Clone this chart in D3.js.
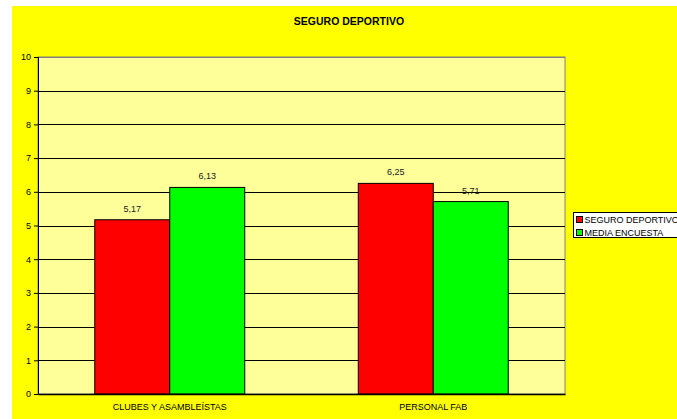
<!DOCTYPE html>
<html>
<head>
<meta charset="utf-8">
<script src="https://cdn.jsdelivr.net/npm/d3@7"></script>
<style>
  body { margin: 0; background: #fff; }
  svg { display: block; font-family: "Liberation Sans", Arial, sans-serif; }
</style>
</head>
<body>
<svg id="chart" width="677" height="419"></svg>
<script>
// chart data
var categories = ["CLUBES Y ASAMBLEÍSTAS", "PERSONAL FAB"];
var seriesNames = ["SEGURO DEPORTIVO", "MEDIA ENCUESTA"];
var seguroValues = [5.17, 6.25];
var mediaValues = [6.13, 5.71];
var yTicks = [0, 1, 2, 3, 4, 5, 6, 7, 8, 9, 10];
var colors = ["#ff0000", "#00ff00"];

var svg = d3.select("#chart");

// yellow chart area
svg.append("rect")
  .attr("x", 12).attr("y", 6)
  .attr("width", 665).attr("height", 413)
  .attr("fill", "#ffff00");

// title
svg.append("text")
  .attr("x", 349).attr("y", 25)
  .attr("text-anchor", "middle")
  .style("font-size", "10.5px")
  .style("font-weight", "bold")
  .text("SEGURO DEPORTIVO");

// plot box (window.top is read-only, so no bare "top" here)
var plotLeft = 38, plotRight = 565, plotTop = 57, plotBottom = 394;

var y = d3.scaleLinear().domain([0, 10]).range([plotBottom, plotTop]);
var x = d3.scaleBand().domain(categories).range([plotLeft, plotRight]);
var xSub = d3.scaleBand().domain(seriesNames)
  .range([0, x.bandwidth()]).paddingOuter(0.757);

// plot background
svg.append("rect")
  .attr("x", plotLeft).attr("y", plotTop)
  .attr("width", plotRight - plotLeft).attr("height", plotBottom - plotTop)
  .attr("fill", "#ffff99")
  .attr("stroke", "#808080")
  .attr("stroke-width", 1);

// gridlines
svg.append("g").selectAll("line")
  .data(yTicks.filter(function(d) { return d > 0; }))
  .enter().append("line")
    .attr("x1", plotLeft).attr("x2", plotRight)
    .attr("y1", function(d) { return Math.round(y(d)) + 0.5; })
    .attr("y2", function(d) { return Math.round(y(d)) + 0.5; })
    .attr("stroke", function(d) { return d == 10 ? "#808080" : "#000"; })
    .attr("stroke-width", 1);

// bars
var rows = categories.map(function(c, i) {
  return [
    { cat: c, name: seriesNames[0], value: seguroValues[i], color: colors[0] },
    { cat: c, name: seriesNames[1], value: mediaValues[i], color: colors[1] }
  ];
});

var groups = svg.append("g").selectAll("g")
  .data(rows)
  .enter().append("g")
    .attr("transform", function(d, i) { return "translate(" + x(categories[i]) + ",0)"; });

groups.selectAll("rect")
  .data(function(d) { return d; })
  .enter().append("rect")
    .attr("x", function(d) { return xSub(d.name); })
    .attr("y", function(d) { return y(d.value); })
    .attr("width", xSub.bandwidth())
    .attr("height", function(d) { return plotBottom - y(d.value); })
    .attr("fill", function(d) { return d.color; })
    .attr("stroke", "#000")
    .attr("stroke-width", 1);

// value labels
groups.selectAll("text")
  .data(function(d) { return d; })
  .enter().append("text")
    .attr("x", function(d) { return xSub(d.name) + xSub.bandwidth() / 2; })
    .attr("y", function(d) { return y(d.value) - 8; })
    .attr("text-anchor", "middle")
    .style("font-size", "9px")
    .attr("fill", "#222")
    .text(function(d) { return d.value.toFixed(2).replace(".", ","); });

// axes
var yAxis = d3.axisLeft(y).tickValues(yTicks).tickSize(4).tickPadding(3);
var gy = svg.append("g").attr("transform", "translate(" + plotLeft + ",0)").call(yAxis);
gy.select(".domain").attr("stroke", "#000");
gy.selectAll("text").style("font-size", "9px").attr("fill", "#000");

var xAxis = d3.axisBottom(x).tickSize(0).tickPadding(10);
var gx = svg.append("g").attr("transform", "translate(0," + plotBottom + ")").call(xAxis);
gx.select(".domain").attr("stroke", "#000").attr("stroke-width", 1.5);
gx.selectAll("text").style("font-size", "9px").attr("fill", "#000");

// legend
var legend = svg.append("g").attr("transform", "translate(573.5,212.5)");
legend.append("rect")
  .attr("width", 120).attr("height", 25)
  .attr("fill", "#fff").attr("stroke", "#000");

var items = legend.selectAll("g.item")
  .data(seriesNames)
  .enter().append("g")
    .attr("class", "item")
    .attr("transform", function(d, i) { return "translate(3," + (4 + i * 13) + ")"; });

items.append("rect")
  .attr("width", 6).attr("height", 6)
  .attr("fill", function(d, i) { return colors[i]; })
  .attr("stroke", "#000");

items.append("text")
  .attr("x", 8).attr("y", 6.5)
  .style("font-size", "9px")
  .text(function(d) { return d; });
</script>
</body>
</html>
